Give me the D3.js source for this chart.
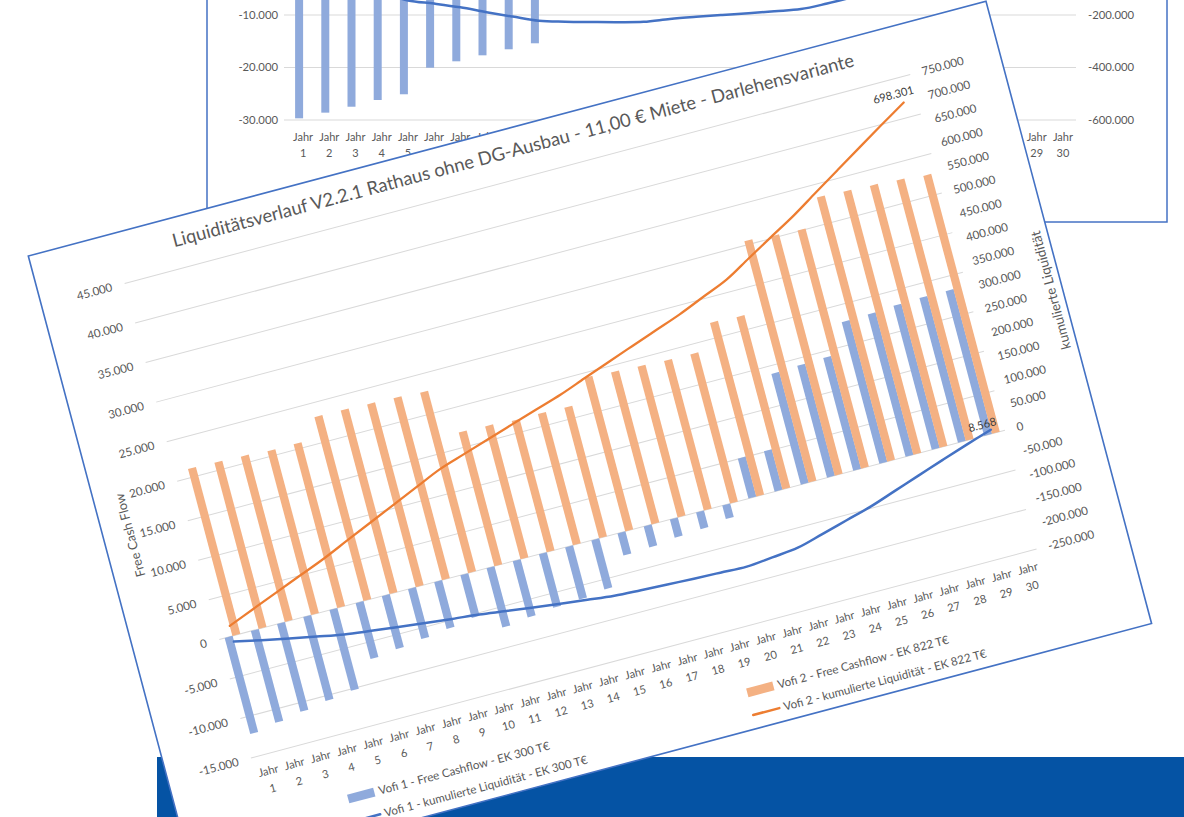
<!DOCTYPE html>
<html><head><meta charset="utf-8">
<script src="https://cdn.jsdelivr.net/npm/d3@7"></script>
<style>
body{margin:0;background:#fff;overflow:hidden}
svg{display:block}
text{font-family:Lato,"Open Sans",sans-serif}
</style></head>
<body><svg id="c" width="1184" height="817"></svg>
<script>
// ---------- DATA ----------
const categories = ["Jahr 1","Jahr 2","Jahr 3","Jahr 4","Jahr 5","Jahr 6","Jahr 7","Jahr 8","Jahr 9","Jahr 10",
  "Jahr 11","Jahr 12","Jahr 13","Jahr 14","Jahr 15","Jahr 16","Jahr 17","Jahr 18","Jahr 19","Jahr 20",
  "Jahr 21","Jahr 22","Jahr 23","Jahr 24","Jahr 25","Jahr 26","Jahr 27","Jahr 28","Jahr 29","Jahr 30"];
const vofi1FreeCashflow = [-12150,-11600,-11100,-10600,-10200,-7070,-6700,-6300,-5900,-5400,
  -7500,-7100,-6750,-6600,-6200,-2800,-2650,-2300,-2100,-1700,5050,5100,14000,14150,14250,17900,18000,18200,18300,18300];
const vofi2FreeCashflow = [21100,21000,20900,20700,20700,23250,23200,23100,23000,22800,
  16900,16800,16600,16600,16500,19400,19200,19050,18900,18850,21950,21800,30500,30250,30100,33400,33250,33100,32900,32600];
const vofi1Kumuliert = [-12000,-23700,-34800,-45400,-55600,-62700,-69400,-75700,-81600,-87000,
  -94500,-101500,-108300,-114900,-121000,-124000,-126500,-129000,-131000,-133000,-128000,-122500,-108500,-94000,-79500,-61500,-43500,-25500,-8000,8568];
const vofi2Kumuliert = [21100,42100,63000,83700,104400,127700,150900,174000,197000,219800,
  236700,253500,270100,286700,303200,322600,341800,360800,379700,398600,420500,442300,472800,503100,533200,566600,599800,632900,665800,698301];
const leftTicks = [-15000,-10000,-5000,0,5000,10000,15000,20000,25000,30000,35000,40000,45000];
const rightTicks = [-250000,-200000,-150000,-100000,-50000,0,50000,100000,150000,200000,250000,300000,350000,400000,450000,500000,550000,600000,650000,700000,750000];
const chartTitle = "Liquiditätsverlauf V2.2.1 Rathaus ohne DG-Ausbau - 11,00 € Miete - Darlehensvariante";
const leftAxisTitle = "Free Cash Flow";
const rightAxisTitle = "kumulierte Liquidität";
const legendLabels = ["Vofi 1 - Free Cashflow - EK 300 T€","Vofi 1 - kumulierte Liquidität - EK 300 T€",
  "Vofi 2 - Free Cashflow - EK 822 T€","Vofi 2 - kumulierte Liquidität - EK 822 T€"];
// background (partly hidden) chart
const bgFreeCashflow = [-29680,-28600,-27470,-26190,-25100,-20040,-18820,-17680,-16530,-15390,
  -3400,-1200,-700,1500,4900,8300,7300,6500,7600,8000,21300,24800,26000,27000,28000,30000,32000,33000,35000,35000];
const bgKumuliert = [-30000,-58000,-86000,-115000,-144400,-156600,-170700,-189300,-206100,-222100,
  -225500,-226700,-227400,-225900,-215200,-206900,-199600,-193100,-185500,-177500,-156200,-131400,-105000,-78000,-50000,-20000,12000,45000,80000,115000];
const bgLeftTicks = [-30000,-20000,-10000];
const bgRightTicks = [-600000,-400000,-200000];

// ---------- HELPERS ----------
const loc = d3.formatLocale({decimal:",",thousands:".",grouping:[3],currency:["",""],minus:"-"});
const fmt = loc.format(",d");
const GRAY = "#595959", GRID = "#D9D9D9", FRAME = "#4472C4";
const C_B_BAR = "#8FAADC", C_O_BAR = "#F4B183", C_B_LINE = "#4472C4", C_O_LINE = "#ED7D31";
function fit(sel, w){ const n=sel.node(); const fs=parseFloat(sel.attr("font-size")); const l=n.getComputedTextLength(); sel.attr("font-size", fs*w/l); return fs*w/l; }

const svg = d3.select("#c");

// ---------- BACKGROUND CHART ----------
const bg = svg.append("g");
bg.append("rect").attr("x",207).attr("y",-10).attr("width",960).attr("height",232)
  .attr("fill","#fff").attr("stroke",FRAME).attr("stroke-width",1.5);
const bx = d3.scaleBand().domain(categories).range([290,1076]);
const byL = d3.scaleLinear().domain([-30000,-10000]).range([120,15]);
const byR = d3.scaleLinear().domain([-600000,-200000]).range([120,15]);
bg.selectAll("line.g").data(bgLeftTicks).join("line")
  .attr("x1",bx.range()[0]-6).attr("x2",bx.range()[1]).attr("y1",d=>byL(d)).attr("y2",d=>byL(d))
  .attr("stroke",GRID).attr("stroke-width",1);
bg.selectAll("text.l").data(bgLeftTicks).join("text")
  .attr("x",278).attr("y",d=>byL(d)).attr("dy","0.35em").attr("text-anchor","end")
  .attr("font-size",11.3).attr("fill",GRAY).text(fmt);
bg.selectAll("text.r").data(bgRightTicks).join("text")
  .attr("x",1088).attr("y",d=>byR(d)).attr("dy","0.35em").attr("text-anchor","start")
  .attr("font-size",11.3).attr("fill",GRAY).text(fmt);
bg.selectAll("rect.b").data(bgFreeCashflow).join("rect")
  .attr("x",(d,i)=>bx(categories[i])+bx.bandwidth()/2-8).attr("width",8)
  .attr("y",d=>Math.min(byL(0),byL(d))).attr("height",d=>Math.abs(byL(d)-byL(0)))
  .attr("fill",C_B_BAR);
bg.append("path").datum(bgKumuliert)
  .attr("d",d3.line().x((d,i)=>bx(categories[i])+bx.bandwidth()/2).y(d=>byR(d)).curve(d3.curveCatmullRom))
  .attr("fill","none").attr("stroke",C_B_LINE).attr("stroke-width",2.5);
const bgCat = bg.selectAll("text.c").data(categories).join("text")
  .attr("text-anchor","middle").attr("font-size",11).attr("fill",GRAY);
bgCat.append("tspan").attr("x",d=>bx(d)+bx.bandwidth()/2).attr("y",141).text(d=>d.split(" ")[0]);
bgCat.append("tspan").attr("x",d=>bx(d)+bx.bandwidth()/2).attr("y",157).text(d=>d.split(" ")[1]);

// ---------- BLUE BAND ----------
svg.append("rect").attr("x",157).attr("y",757).attr("width",1027).attr("height",60).attr("fill","#0553A4");

// ---------- MAIN (rotated) CHART ----------
const CW = 991, CH = 644;
const g = svg.append("g").attr("transform","translate(28.3,256) rotate(-14.9)");
g.append("rect").attr("width",CW).attr("height",CH).attr("fill","#fff")
  .attr("stroke",FRAME).attr("stroke-width",1.6);

const x0 = d3.scaleBand().domain(categories).range([86,899]);
const bw = x0.bandwidth();
const yL = d3.scaleLinear().domain([-15000,45000]).range([542.4,51.3]);
const yR = d3.scaleLinear().domain([-250000,750000]).range([542.4,51.3]);

// gridlines
g.selectAll("line.grid").data(leftTicks).join("line")
  .attr("x1",x0.range()[0]).attr("x2",x0.range()[1]).attr("y1",d=>yL(d)).attr("y2",d=>yL(d))
  .attr("stroke",GRID).attr("stroke-width",1);

// axes
const axL = g.append("g").attr("transform",`translate(${x0.range()[0]},0)`)
  .call(d3.axisLeft(yL).tickValues(leftTicks).tickFormat(fmt).tickSize(0).tickPadding(13));
const axR = g.append("g").attr("transform",`translate(${x0.range()[1]},0)`)
  .call(d3.axisRight(yR).tickValues(rightTicks).tickFormat(fmt).tickSize(0).tickPadding(12));
[axL,axR].forEach(a=>{ a.select(".domain").remove();
  a.attr("font-family",null).attr("font-size",null);
  a.selectAll("text").attr("font-size",11.6).attr("fill",GRAY); });

// bars
g.selectAll("rect.v1").data(vofi1FreeCashflow).join("rect")
  .attr("x",(d,i)=>x0(categories[i])+bw/2-8).attr("width",8.2)
  .attr("y",d=>Math.min(yL(0),yL(d))).attr("height",d=>Math.abs(yL(d)-yL(0)))
  .attr("fill",C_B_BAR);
g.selectAll("rect.v2").data(vofi2FreeCashflow).join("rect")
  .attr("x",(d,i)=>x0(categories[i])+bw/2).attr("width",8.2)
  .attr("y",d=>Math.min(yL(0),yL(d))).attr("height",d=>Math.abs(yL(d)-yL(0)))
  .attr("fill",C_O_BAR);

// lines
const lineGen = d3.line().x((d,i)=>x0(categories[i])+bw/2).y(d=>yR(d)).curve(d3.curveCatmullRom);
g.append("path").datum(vofi1Kumuliert).attr("d",lineGen).attr("fill","none")
  .attr("stroke",C_B_LINE).attr("stroke-width",2.5).attr("stroke-linecap","round");
g.append("path").datum(vofi2Kumuliert).attr("d",lineGen).attr("fill","none")
  .attr("stroke",C_O_LINE).attr("stroke-width",2.25).attr("stroke-linecap","round");

// end labels
const last = categories.length-1;
const lx = x0(categories[last])+bw/2;
g.append("text").attr("x",lx-8).attr("y",yR(vofi2Kumuliert[last])-10).attr("dy","0.35em")
  .attr("text-anchor","middle").attr("font-size",11.2).attr("fill","#404040").text(fmt(vofi2Kumuliert[last]));
g.append("text").attr("x",lx-7).attr("y",yR(vofi1Kumuliert[last])-7).attr("dy","0.35em")
  .attr("text-anchor","middle").attr("font-size",11.2).attr("fill","#404040").text(fmt(vofi1Kumuliert[last]));

// category labels
const cat = g.selectAll("text.cat").data(categories).join("text")
  .attr("text-anchor","middle").attr("font-size",11.2).attr("fill",GRAY);
cat.append("tspan").attr("x",d=>x0(d)+bw/2).attr("y",563).text(d=>d.split(" ")[0]);
cat.append("tspan").attr("x",d=>x0(d)+bw/2).attr("y",581).text(d=>d.split(" ")[1]);

// title
const t = g.append("text").attr("x",CW/2).attr("y",29).attr("text-anchor","middle")
  .attr("font-size",19).attr("fill",GRAY).text(chartTitle);
fit(t,705);

// axis titles
const lt = g.append("text").attr("transform","translate(31,296) rotate(-90)").attr("text-anchor","middle")
  .attr("font-size",13).attr("fill",GRAY).text(leftAxisTitle);
fit(lt,86);
const rt = g.append("text").attr("transform","translate(984,296) rotate(-90)").attr("text-anchor","middle")
  .attr("font-size",12.5).attr("fill",GRAY).text(rightAxisTitle);
fit(rt,122);

// legend
const legPos = [[183,607],[183,630],[596,607],[596,630]];
const legType = ["bar","line","bar","line"];
const legCol = [C_B_BAR,C_B_LINE,C_O_BAR,C_O_LINE];
const leg = g.append("g");
let legFs = 11.5;
legendLabels.forEach((lab,i)=>{
  const [cx,cy] = legPos[i];
  if(legType[i]==="bar") leg.append("rect").attr("x",cx-13.5).attr("y",cy-4.5).attr("width",27).attr("height",9).attr("fill",legCol[i]);
  else leg.append("line").attr("x1",cx-13.5).attr("x2",cx+13.5).attr("y1",cy).attr("y2",cy).attr("stroke",legCol[i]).attr("stroke-width",2.5).attr("stroke-linecap","round");
  const tx = leg.append("text").attr("x",cx+18).attr("y",cy).attr("dy","0.35em").attr("font-size",legFs).attr("fill",GRAY).text(lab);
  if(i===0) legFs = fit(tx,177);
});
leg.selectAll("text").attr("font-size",legFs);
</script></body></html>
